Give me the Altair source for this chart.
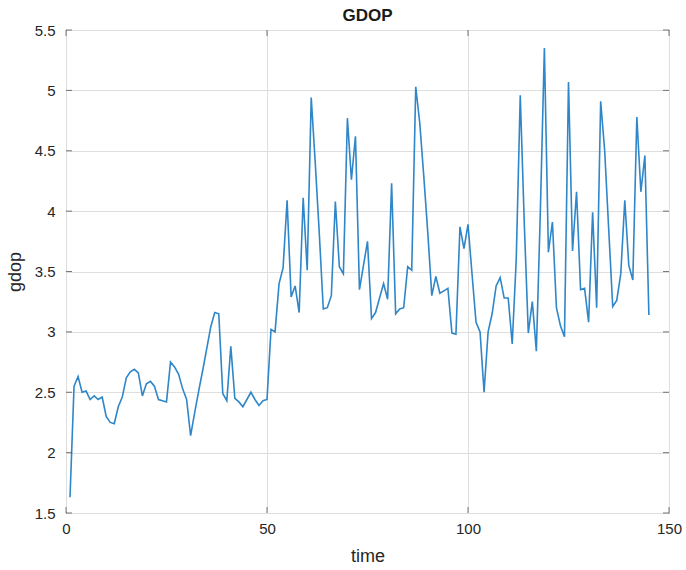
import altair as alt
import pandas as pd

times = list(range(1, 146))
gdop = [
    1.63, 2.55, 2.63, 2.50, 2.51, 2.44, 2.47, 2.44, 2.46, 2.30,
    2.25, 2.24, 2.38, 2.46, 2.62, 2.67, 2.69, 2.66, 2.47, 2.57,
    2.59, 2.55, 2.44, 2.43, 2.42, 2.75, 2.71, 2.65, 2.53, 2.44,
    2.14, 2.33, 2.51, 2.68, 2.86, 3.04, 3.16, 3.15, 2.49, 2.43,
    2.88, 2.45, 2.42, 2.38, 2.44, 2.50, 2.44, 2.39, 2.43, 2.44,
    3.02, 3.00, 3.40, 3.53, 4.09, 3.29, 3.38, 3.16, 4.11, 3.51,
    4.94, 4.40, 3.82, 3.19, 3.20, 3.30, 4.08, 3.54, 3.48, 4.77,
    4.26, 4.62, 3.35, 3.55, 3.75, 3.11, 3.16, 3.28, 3.40, 3.27,
    4.23, 3.15, 3.19, 3.20, 3.54, 3.51, 5.03, 4.73, 4.29, 3.82,
    3.30, 3.46, 3.32, 3.34, 3.36, 2.99, 2.98, 3.87, 3.69, 3.89,
    3.48, 3.08, 3.00, 2.50, 3.00, 3.15, 3.38, 3.45, 3.28, 3.28,
    2.90, 3.60, 4.96, 3.90, 2.99, 3.25, 2.84, 4.00, 5.35, 3.66,
    3.91, 3.20, 3.05, 2.96, 5.07, 3.67, 4.16, 3.35, 3.36, 3.08,
    3.99, 3.20, 4.91, 4.50, 3.85, 3.21, 3.26, 3.48, 4.09, 3.55,
    3.43, 4.78, 4.16, 4.46, 3.14,
]
x_ticks = [0, 50, 100, 150]
y_ticks = [1.5, 2, 2.5, 3, 3.5, 4, 4.5, 5, 5.5]

W, H = 603, 483
frame_color = "#404040"

df = pd.DataFrame({"time": times, "gdop": gdop})
xt = pd.DataFrame({"time": x_ticks})
yt = pd.DataFrame({"gdop": y_ticks})

xs = alt.Scale(domain=[0, 150], nice=False, zero=False)
ys = alt.Scale(domain=[1.5, 5.5], nice=False, zero=False)
x_axis = alt.Axis(values=x_ticks, title="time", labelPadding=8, titlePadding=11, labelFlush=False)
y_axis = alt.Axis(values=y_ticks, format=".1~f", title="gdop", labelPadding=11, titlePadding=10, labelFlush=False)

X = alt.X("time:Q", scale=xs, axis=x_axis)
Y = alt.Y("gdop:Q", scale=ys, axis=y_axis)

line = alt.Chart(df).mark_line(color="#2f86c8", strokeWidth=1.6).encode(x=X, y=Y)

top = alt.Chart(xt).mark_tick(orient="vertical", size=6, thickness=1, color=frame_color).encode(x=X, y=alt.value(3))
bottom = alt.Chart(xt).mark_tick(orient="vertical", size=6, thickness=1, color=frame_color).encode(x=X, y=alt.value(H - 3))
left = alt.Chart(yt).mark_tick(orient="horizontal", size=6, thickness=1, color=frame_color).encode(y=Y, x=alt.value(3))
right = alt.Chart(yt).mark_tick(orient="horizontal", size=6, thickness=1, color=frame_color).encode(y=Y, x=alt.value(W - 3))

chart = (
    alt.layer(line, top, bottom, left, right)
    .properties(
        width=W,
        height=H,
        title=alt.TitleParams("GDOP", offset=-2),
        autosize=alt.AutoSizeParams(type="none"),
        padding={"left": 66, "top": 30, "right": 17, "bottom": 57},
        background="white",
    )
    .configure_view(stroke=frame_color, strokeWidth=1)
    .configure_axis(
        grid=True,
        gridColor="#dedede",
        gridWidth=1,
        domain=False,
        ticks=False,
        labelFont="Liberation Sans",
        labelFontSize=15,
        labelColor="#262626",
        titleFont="Liberation Sans",
        titleFontSize=18,
        titleFontWeight="normal",
        titleColor="#262626",
    )
    .configure_title(
        font="Liberation Sans",
        fontSize=17,
        fontWeight="bold",
        color="#1a1a1a",
        anchor="middle",
    )
)

chart.save("out.html", embed_options={"renderer": "svg", "actions": False})
